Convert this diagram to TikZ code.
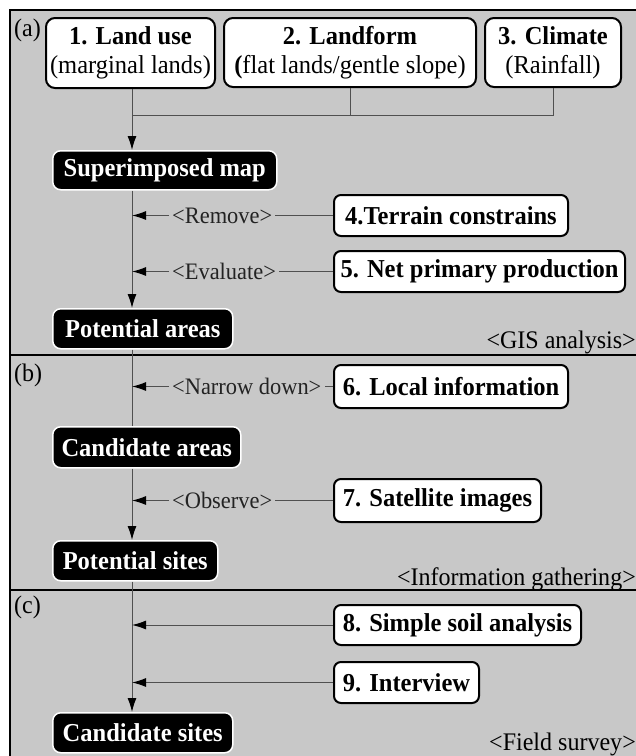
\documentclass[tikz,border=0pt]{standalone}
\usepackage{fontspec}
\setmainfont{Liberation Serif}[FakeStretch=0.95]
\usetikzlibrary{arrows.meta}
\definecolor{bgcol}{RGB}{200,200,200}
\definecolor{conncol}{RGB}{80,80,80}
\definecolor{lblcol}{RGB}{35,35,35}
\begin{document}
\begin{tikzpicture}[x=1pt,y=-1pt,
 topbox/.style={draw=black,line width=2pt,rounded corners=9pt,fill=white,inner sep=0pt,align=center,anchor=north west,font=\fontsize{25.8}{29}\selectfont},
 sidebox/.style={draw=black,line width=2pt,rounded corners=7pt,fill=white,inner sep=0pt,anchor=north west,font=\fontsize{25.8}{29}\selectfont\bfseries},
 blackbox/.style={draw=white,line width=1.5pt,rounded corners=8pt,fill=black,text=white,inner sep=0pt,anchor=north west,font=\fontsize{25.8}{29}\selectfont\bfseries},
 conn/.style={draw=conncol,line width=1pt},
 arr/.style={conn,-{Latex[length=14pt,width=9pt,color=black]}},
 lbl/.style={font=\fontsize{23.6}{27}\selectfont,text=lblcol,inner sep=3pt,anchor=west},
 seclbl/.style={font=\fontsize{25.3}{29}\selectfont,inner sep=0pt},
 sepline/.style={draw=black,line width=2pt},
]
\useasboundingbox (0,0) rectangle (636,756);
\fill[white] (0,0) rectangle (636,756);
\fill[bgcol] (10,10) rectangle (636,756);
\draw[sepline] (10,756) -- (10,10) -- (636,10);
\draw[sepline] (10,354.5) -- (636,354.5);
\draw[sepline] (10,590) -- (636,590);

\coordinate (ax) at (132,0);
\coordinate (jy) at (0,115);
\coordinate (lx) at (169,0);

% top row
\node[topbox,minimum width=169pt,minimum height=70pt] (b1) at (45,17) {\textbf{1. Land use}\\(marginal lands)};
\node[topbox,minimum width=252pt,minimum height=69pt] (b2) at (223,17) {\textbf{2. Landform}\\\textbf{(}flat lands/gentle slope)};
\node[topbox,minimum width=136pt,minimum height=69pt] (b3) at (484,17) {\textbf{3. Climate}\\(Rainfall)};

% black boxes
\node[blackbox,minimum width=224pt,minimum height=39pt] (sup) at (52,150) {Superimposed map};
\node[blackbox,minimum width=180pt,minimum height=40pt] (pa) at (52,308) {Potential areas};
\node[blackbox,minimum width=188pt,minimum height=41pt] (ca) at (52,426) {Candidate areas};
\node[blackbox,minimum width=165pt,minimum height=40pt] (ps) at (52,540) {Potential sites};
\node[blackbox,minimum width=180pt,minimum height=40pt] (cs) at (52,712) {Candidate sites};

% side boxes
\node[sidebox,minimum width=234pt,minimum height=41pt] (b4) at (333,194) {4.Terrain constrains};
\node[sidebox,minimum width=291pt,minimum height=41pt] (b5) at (333,250) {5. Net primary production};
\node[sidebox,minimum width=234pt,minimum height=43pt] (b6) at (333,364) {6. Local information};
\node[sidebox,minimum width=207pt,minimum height=43pt] (b7) at (333,478) {7. Satellite images};
\node[sidebox,minimum width=247pt,minimum height=40pt] (b8) at (333,604) {8. Simple soil analysis};
\node[sidebox,minimum width=145pt,minimum height=41pt] (b9) at (333,661) {9. Interview};

% labels
\node[lbl] (l4) at (b4.west -| lx) {<Remove>};
\node[lbl] (l5) at (b5.west -| lx) {<Evaluate>};
\node[lbl] (l6) at (b6.west -| lx) {<Narrow down>};
\node[lbl] (l7) at (b7.west -| lx) {<Observe>};

% section labels
\node[seclbl,anchor=base west] (sa) at (14,36) {(a)};
\node[seclbl,anchor=base west] (sb) at (14,381) {(b)};
\node[seclbl,anchor=base west] (sc) at (14,613) {(c)};
\node[seclbl,anchor=base east] (gis) at (636,348) {<GIS analysis>};
\node[seclbl,anchor=base east] (info) at (636,585) {<Information gathering>};
\node[seclbl,anchor=base east] (fs) at (636,750) {<Field survey>};

% top connectors
\draw[conn] (b2.south) -- (b2.south |- jy);
\draw[conn] (b3.south) -- (b3.south |- jy) -- (ax |- jy);
\draw[arr] (b1.south -| ax) -- (sup.north -| ax);

% main flow
\draw[arr] (sup.south -| ax) -- (pa.north -| ax);
\draw[conn] (pa.south -| ax) -- (ca.north -| ax);
\draw[arr] (ca.south -| ax) -- (ps.north -| ax);
\draw[arr] (ps.south -| ax) -- (cs.north -| ax);

% side inputs
\draw[conn] (b4.west) -- (l4.east);
\draw[arr] (l4.west) -- (l4.west -| ax);
\draw[conn] (b5.west) -- (l5.east);
\draw[arr] (l5.west) -- (l5.west -| ax);
\draw[conn] (b6.west) -- (l6.east);
\draw[arr] (l6.west) -- (l6.west -| ax);
\draw[conn] (b7.west) -- (l7.east);
\draw[arr] (l7.west) -- (l7.west -| ax);
\draw[arr] (b8.west) -- (b8.west -| ax);
\draw[arr] (b9.west) -- (b9.west -| ax);
\end{tikzpicture}
\end{document}
